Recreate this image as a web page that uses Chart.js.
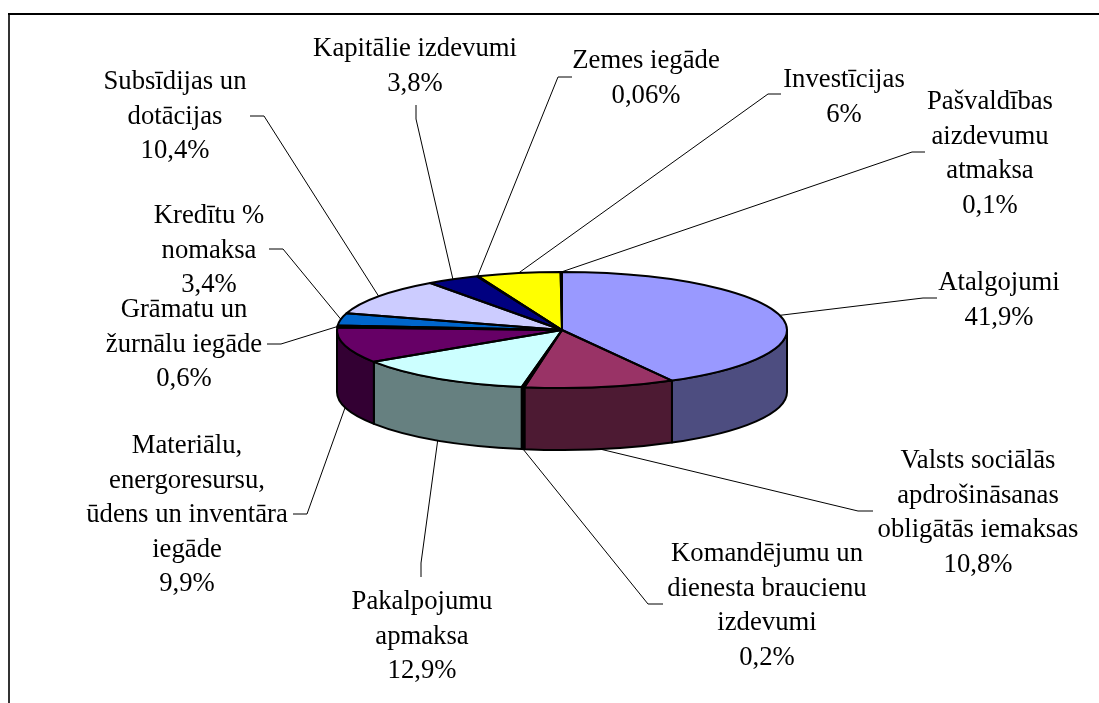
<!DOCTYPE html>
<html lang="lv">
<head>
<meta charset="utf-8">
<title>Izdevumi</title>
<style>
  html, body { margin: 0; padding: 0; background: #fff; overflow: hidden; }
  canvas { display: block; }
</style>
<script src="https://cdn.jsdelivr.net/npm/chart.js@4"></script>
</head>
<body>
<canvas id="grafiks" width="1099" height="703"></canvas>
<script>
const categories = [
  ['Atalgojumi'],
  ['Valsts sociālās', 'apdrošināsanas', 'obligātās iemaksas'],
  ['Komandējumu un', 'dienesta braucienu', 'izdevumi'],
  ['Pakalpojumu', 'apmaksa'],
  ['Materiālu,', 'energoresursu,', 'ūdens un inventāra', 'iegāde'],
  ['Grāmatu un', 'žurnālu iegāde'],
  ['Kredītu %', 'nomaksa'],
  ['Subsīdijas un', 'dotācijas'],
  ['Kapitālie izdevumi'],
  ['Zemes iegāde'],
  ['Investīcijas'],
  ['Pašvaldības', 'aizdevumu', 'atmaksa']
];
const values = [41.9, 10.8, 0.2, 12.9, 9.9, 0.6, 3.4, 10.4, 3.8, 0.06, 6, 0.1];
const colors = ['#9999FF', '#993366', '#000000', '#CCFFFF', '#660066', '#FF8080',
  '#0066CC', '#CCCCFF', '#000080', '#FF00FF', '#FFFF00', '#00FFFF'];

// label centre x, baseline of first line, then the free end of the leader line
const labelPlaces = [
  { x: 999, y: 290, leader: [[923, 298], [937, 298]] },
  { x: 978, y: 468, leader: [[858, 511], [873, 511]] },
  { x: 767, y: 561, leader: [[648, 604], [663, 604]] },
  { x: 422, y: 609, leader: [[421, 563], [421, 577]] },
  { x: 187, y: 453, leader: [[307, 514], [293, 514]] },
  { x: 184, y: 317, leader: [[281, 344], [267, 344]] },
  { x: 209, y: 223, leader: [[283, 249], [269, 249]] },
  { x: 175, y: 89, leader: [[264, 116], [250, 116]] },
  { x: 415, y: 56, leader: [[416, 119], [416, 105]] },
  { x: 646, y: 68, leader: [[558, 77], [572, 77]] },
  { x: 844, y: 87, leader: [[768, 94], [781, 94]] },
  { x: 990, y: 109, leader: [[912, 152], [925, 152]] }
];

const squash = 58 / 225; // pie tilt
const depth = 62;
const lineGap = 34.6;

function darker(hex) {
  const n = parseInt(hex.slice(1), 16);
  const half = v => Math.round(v / 2);
  return `rgb(${half(n >> 16)}, ${half((n >> 8) & 255)}, ${half(n & 255)})`;
}

const pie3d = {
  id: 'pie3d',
  beforeDraw(chart) {
    // frame, only left and top show in the picture
    const ctx = chart.ctx;
    ctx.save();
    ctx.lineWidth = 2;
    ctx.strokeStyle = '#333';
    ctx.beginPath();
    ctx.moveTo(9, 703);
    ctx.lineTo(9, 14);
    ctx.stroke();
    ctx.strokeStyle = '#000';
    ctx.beginPath();
    ctx.moveTo(8, 14);
    ctx.lineTo(1099, 14);
    ctx.stroke();
    ctx.restore();
  },
  beforeDatasetDraw(chart) {
    const ctx = chart.ctx;
    const arcs = chart.getDatasetMeta(0).data;
    const { x: cx, y: cy, outerRadius: r } = arcs[0];
    const ry = r * squash;

    // side wall, only the part facing the viewer
    ctx.save();
    ctx.lineWidth = 2;
    ctx.strokeStyle = '#000';
    ctx.lineJoin = 'round';
    arcs.forEach((arc, i) => {
      const from = Math.max(arc.startAngle, 0);
      const to = Math.min(arc.endAngle, Math.PI);
      if (from >= to) return;
      ctx.beginPath();
      ctx.ellipse(cx, cy, r, ry, 0, from, to);
      ctx.lineTo(cx + r * Math.cos(to), cy + ry * Math.sin(to) + depth);
      ctx.ellipse(cx, cy + depth, r, ry, 0, to, from, true);
      ctx.closePath();
      ctx.fillStyle = darker(colors[i]);
      ctx.fill();
      ctx.stroke();
    });
    ctx.restore();

    // the library draws the top face, squashed into an ellipse
    ctx.save();
    ctx.translate(cx, cy);
    ctx.scale(1, squash);
    ctx.translate(-cx, -cy);
  },
  afterDatasetDraw(chart) {
    const ctx = chart.ctx;
    ctx.restore();

    const arcs = chart.getDatasetMeta(0).data;
    const { x: cx, y: cy, outerRadius: r } = arcs[0];
    const ry = r * squash;

    ctx.save();
    ctx.lineWidth = 2;
    ctx.strokeStyle = '#000';
    ctx.lineJoin = 'round';
    arcs.forEach(arc => {
      ctx.beginPath();
      ctx.moveTo(cx, cy);
      ctx.ellipse(cx, cy, r, ry, 0, arc.startAngle, arc.endAngle);
      ctx.closePath();
      ctx.stroke();
    });
    ctx.restore();
  },
  afterDatasetsDraw(chart) {
    const ctx = chart.ctx;
    const arcs = chart.getDatasetMeta(0).data;
    const { x: cx, y: cy, outerRadius: r } = arcs[0];
    const ry = r * squash;

    ctx.save();
    ctx.strokeStyle = '#000';
    ctx.lineWidth = 1;
    ctx.fillStyle = '#000';
    ctx.font = '26.7px "Liberation Serif"';
    ctx.textAlign = 'center';
    ctx.textBaseline = 'alphabetic';
    arcs.forEach((arc, i) => {
      // leader starts at the slice's middle on the rim
      const mid = (arc.startAngle + arc.endAngle) / 2;
      const front = Math.sin(mid) > 0;
      ctx.beginPath();
      ctx.moveTo(cx + r * Math.cos(mid), cy + ry * Math.sin(mid) + (front ? depth : 0));
      labelPlaces[i].leader.forEach(p => ctx.lineTo(p[0], p[1]));
      ctx.stroke();

      const lines = categories[i].concat(String(values[i]).replace('.', ',') + '%');
      lines.forEach((line, n) => {
        ctx.fillText(line, labelPlaces[i].x, labelPlaces[i].y + n * lineGap);
      });
    });
    ctx.restore();
  }
};

new Chart(document.getElementById('grafiks').getContext('2d'), {
  type: 'pie',
  data: {
    labels: categories.map(c => c.join(' ')),
    datasets: [{
      data: values,
      backgroundColor: colors,
      borderWidth: 0
    }]
  },
  options: {
    responsive: false,
    animation: false,
    layout: { padding: { left: 337, right: 312, top: 105, bottom: 148 } },
    plugins: {
      legend: { display: false },
      tooltip: { enabled: false }
    }
  },
  plugins: [pie3d]
});
</script>
</body>
</html>
